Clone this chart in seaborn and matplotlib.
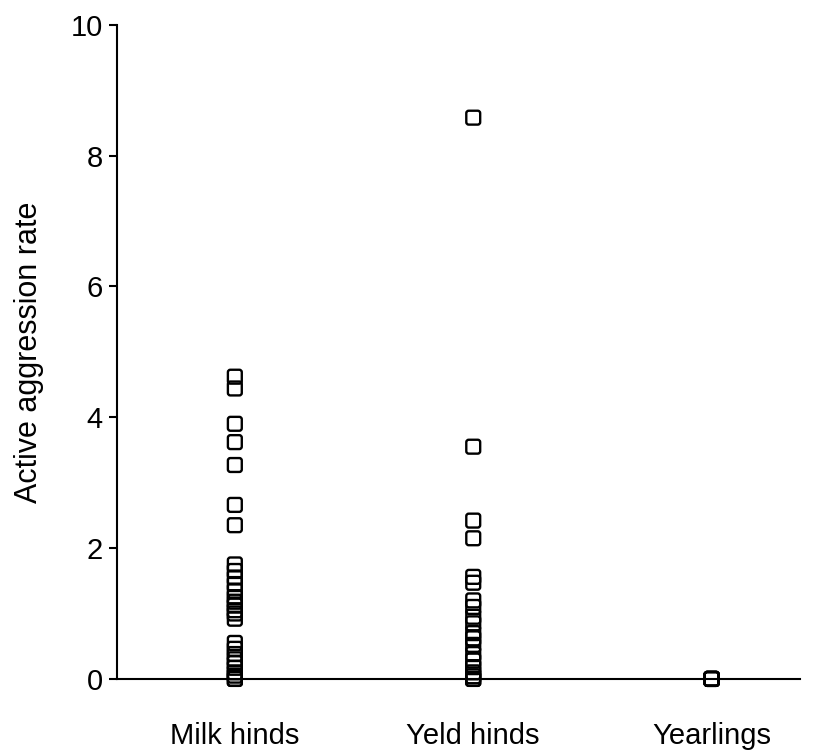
import numpy as np
import pandas as pd
import matplotlib
matplotlib.use("Agg")
import matplotlib.pyplot as plt
from matplotlib.path import Path
from matplotlib.markers import MarkerStyle
import seaborn as sns

categories = ["Milk hinds", "Yeld hinds", "Yearlings"]

milk_hinds = [4.62, 4.44, 3.90, 3.62, 3.27, 2.66, 2.35, 1.75, 1.65, 1.55,
              1.45, 1.35, 1.25, 1.18, 1.12, 1.05, 1.00, 0.92, 0.55, 0.46,
              0.38, 0.30, 0.24, 0.17, 0.10, 0.05, 0.0, 0.0]
yeld_hinds = [8.58, 3.55, 2.42, 2.15, 1.56, 1.47, 1.20, 1.10, 0.95, 0.85,
              0.70, 0.62, 0.52, 0.38, 0.28, 0.18, 0.10, 0.04, 0.0, 0.0]
yearlings = [0.0, 0.0, 0.0, 0.0, 0.0, 0.0]

y_ticks = [0, 2, 4, 6, 8, 10]

df = pd.DataFrame({
    "group": (["Milk hinds"] * len(milk_hinds) + ["Yeld hinds"] * len(yeld_hinds)
              + ["Yearlings"] * len(yearlings)),
    "rate": milk_hinds + yeld_hinds + yearlings,
})


def rounded_square(r=0.35):
    """Square marker outline with rounded corners."""
    verts = [
        (-1 + r, -1), (1 - r, -1), (1, -1), (1, -1 + r),
        (1, 1 - r), (1, 1), (1 - r, 1),
        (-1 + r, 1), (-1, 1), (-1, 1 - r),
        (-1, -1 + r), (-1, -1), (-1 + r, -1),
        (-1 + r, -1),
    ]
    codes = [Path.MOVETO, Path.LINETO, Path.CURVE3, Path.CURVE3,
             Path.LINETO, Path.CURVE3, Path.CURVE3,
             Path.LINETO, Path.CURVE3, Path.CURVE3,
             Path.LINETO, Path.CURVE3, Path.CURVE3,
             Path.CLOSEPOLY]
    return Path(verts, codes)


sns.set_style("ticks")
plt.rcParams["font.family"] = ["Liberation Sans", "DejaVu Sans"]

fig = plt.figure(figsize=(8.17, 7.51), dpi=100)
ax = fig.add_axes([0.143, 0.096, 0.836, 0.871])

sns.stripplot(data=df, x="group", y="rate", order=categories, jitter=False,
              marker=MarkerStyle(rounded_square()), size=10, color="white",
              edgecolor="black", linewidth=1.7, ax=ax, clip_on=False, zorder=3)
for coll in ax.collections:
    coll.set_facecolor("none")

ax.set_ylim(0, 10)
ax.set_xlim(-0.495, 2.37)
ax.set_yticks(y_ticks)
ax.set_yticklabels([str(t) for t in y_ticks])
ax.set_xlabel("")
ax.set_ylabel("Active aggression rate", fontsize=22, labelpad=19, color="black")

for side in ("top", "right"):
    ax.spines[side].set_visible(False)
for side in ("left", "bottom"):
    ax.spines[side].set_linewidth(1.5)
    ax.spines[side].set_color("black")

ax.tick_params(axis="y", length=6, width=1.5, labelsize=21, pad=4,
               colors="black")
ax.tick_params(axis="x", length=0, labelsize=21, pad=31, colors="black")

fig.savefig("out.png", dpi=100, facecolor="white")
